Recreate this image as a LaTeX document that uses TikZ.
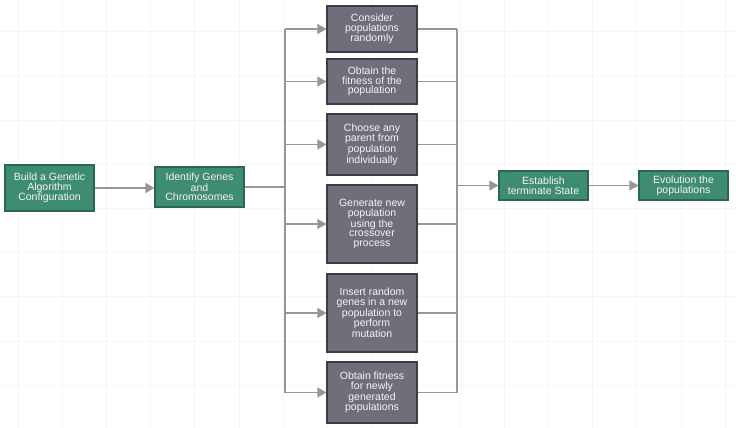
\documentclass[tikz,border=0pt]{standalone}
\usepackage{fontspec}
\setmainfont{Liberation Sans}
\usepackage{xcolor}
\usepackage{tikz}
\usetikzlibrary{positioning,arrows.meta,calc}

\definecolor{gaGreen}{HTML}{3E8C72}
\definecolor{gaGreenLine}{HTML}{2B6652}
\definecolor{gaGray}{HTML}{6F6F7B}
\definecolor{gaGrayLine}{HTML}{3C3C46}
\definecolor{gaWire}{HTML}{969696}

\begin{document}
\begin{tikzpicture}[x=1pt, y=-1pt,
    font=\fontsize{10.5}{9.6}\selectfont, text=white!96!black,
    greenbox/.style={draw=gaGreenLine, fill=gaGreen, line width=1.2pt, align=center, minimum width=89pt, inner sep=1pt},
    graybox/.style={draw=gaGrayLine, fill=gaGray, line width=1.2pt, align=center, minimum width=90pt, inner sep=1pt},
    wire/.style={draw=gaWire, line width=1.2pt},
    arrow/.style={wire, -{Triangle[length=9pt, width=10pt]}}]

  % Canvas with faint grid
  \fill[white] (0,0) rectangle (736,428);
  \useasboundingbox (0,0) rectangle (736,428);
  \foreach \gx in {18,62.2,...,736} {\draw[black!4, line width=0.8pt] (\gx,0) -- (\gx,428);}
  \foreach \gy in {31.6,75.8,...,428} {\draw[black!4, line width=0.8pt] (0,\gy) -- (736,\gy);}

  % Setup steps
  \node[greenbox, minimum height=46pt] (build) at (49.5, 188) {Build a Genetic\\Algorithm\\Configuration};
  \node[greenbox, minimum height=40pt] (ident) at (199.5, 187) {Identify Genes\\and\\Chromosomes};
  \draw[arrow] (build.east) -- (ident.west |- build.east);

  % Main loop steps
  \node[graybox, minimum height=46pt] (consider) at (372, 29) {Consider\\populations\\randomly};
  \node[graybox, minimum height=45pt] (fitness) at (372, 81.5) {Obtain the\\fitness of the\\population};
  \node[graybox, minimum height=61pt] (parent) at (372, 144.5) {Choose any\\parent from\\population\\individually};
  \node[graybox, minimum height=78pt] (crossover) at (372, 224) {Generate new\\population\\using the\\crossover\\process};
  \node[graybox, minimum height=78pt] (mutation) at (372, 313) {Insert random\\genes in a new\\population to\\perform\\mutation};
  \node[graybox, minimum height=61pt] (newfit) at (372, 392.5) {Obtain fitness\\for newly\\generated\\populations};

  % Final steps
  \node[greenbox, minimum height=29pt] (term) at (543.5, 185.5) {Establish\\terminate State};
  \node[greenbox, minimum height=29pt] (evol) at (683.5, 185.5) {Evolution the\\populations};

  % Split bus on the left
  \coordinate (split) at (285, 0);
  \draw[wire] (ident.east) -- (split |- ident.east);
  \draw[wire] (split |- consider.west) -- (split |- newfit.west);
  \draw[arrow] (split |- consider.west) -- (consider.west);
  \draw[arrow] (split |- fitness.west) -- (fitness.west);
  \draw[arrow] (split |- parent.west) -- (parent.west);
  \draw[arrow] (split |- crossover.west) -- (crossover.west);
  \draw[arrow] (split |- mutation.west) -- (mutation.west);
  \draw[arrow] (split |- newfit.west) -- (newfit.west);

  % Join bus on the right
  \coordinate (join) at (457, 0);
  \draw[wire] (join |- consider.east) -- (join |- newfit.east);
  \draw[wire] (consider.east) -- (join |- consider.east);
  \draw[wire] (fitness.east) -- (join |- fitness.east);
  \draw[wire] (parent.east) -- (join |- parent.east);
  \draw[wire] (crossover.east) -- (join |- crossover.east);
  \draw[wire] (mutation.east) -- (join |- mutation.east);
  \draw[wire] (newfit.east) -- (join |- newfit.east);
  \draw[arrow] (join |- term.west) -- (term.west);
  \draw[arrow] (term.east) -- (evol.west);

\end{tikzpicture}
\end{document}
